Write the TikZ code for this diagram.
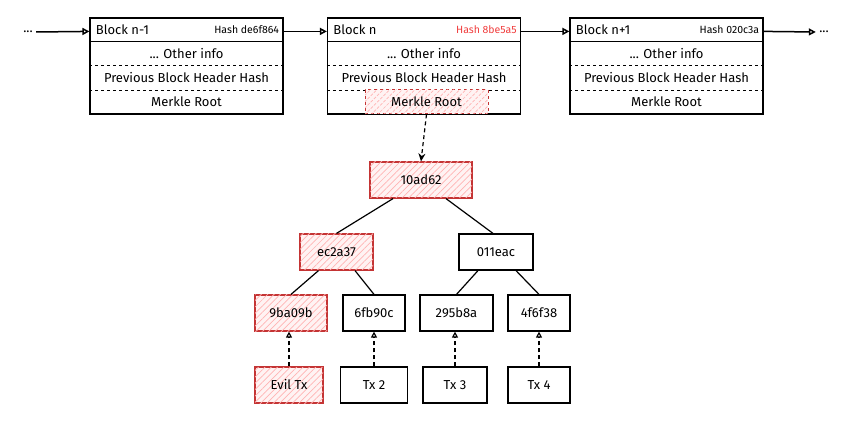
\documentclass[tikz,border=0pt]{standalone}
\usepackage{fontspec}
\setmainfont{Fira Sans}
\usetikzlibrary{arrows.meta,patterns.meta}

\definecolor{evilred}{RGB}{196,52,52}
\definecolor{hashred}{RGB}{240,62,62}
\definecolor{hatchred}{RGB}{255,180,180}
\definecolor{fillred}{RGB}{255,243,243}

\begin{document}
\begin{tikzpicture}[x=1pt, y=-1pt, font=\fontsize{13}{15}\selectfont]
	\tikzset{block/.style={draw, line width=1.2pt, minimum width=193pt, minimum height=96pt},
		hashbox/.style={draw, line width=1.2pt, minimum height=36pt},
		evil/.style={draw=evilred, fill=fillred, postaction={pattern={Lines[angle=45,distance=4.5pt,line width=0.7pt]}, pattern color=hatchred}},
		sketchdash/.style={dash pattern=on 4pt off 3pt},
		link/.style={line width=1.5pt, -{Triangle[open,length=7pt,width=7pt]}},
		proof/.style={line width=1.2pt, sketchdash, -{Triangle[open,length=6pt,width=6pt]}}}

	\useasboundingbox (0,0) rectangle (852,422);

	% the chain of blocks
	\foreach \b/\x/\t/\h/\c in {bm/186.5/Block n-1/Hash de6f864/black,
		bn/424/Block n/Hash 8be5a5/hashred,
		bp/666.5/Block n+1/Hash 020c3a/black}{
		\node [block] (\b) at (\x,66) {};
		\draw [line width=1.2pt] ([yshift=-24pt]\b.north west) -- ([yshift=-24pt]\b.north east);
		\draw [dashed, line width=1.2pt] ([yshift=-48pt]\b.north west) -- ([yshift=-48pt]\b.north east);
		\draw [dashed, line width=1.2pt] ([yshift=-73pt]\b.north west) -- ([yshift=-73pt]\b.north east);
		\node [anchor=west] (\b-title) at ([xshift=3pt,yshift=-12pt]\b.north west) {\t};
		\node [anchor=east, text=\c, font=\fontsize{10.5}{12}\selectfont] (\b-hash) at ([xshift=-1pt,yshift=-12pt]\b.north east) {\h};
		\node (\b-other) at ([yshift=-36pt]\b.north) {... Other info};
		\node (\b-prev) at ([yshift=-60.5pt]\b.north) {Previous Block Header Hash};
	}
	\node (bm-root) at ([yshift=-84.5pt]bm.north) {Merkle Root};
	\node (bp-root) at ([yshift=-84.5pt]bp.north) {Merkle Root};
	\node [evil, dashed, line width=1pt, minimum width=123pt, minimum height=24pt] (bn-root) at ([xshift=2.5pt,yshift=-84.5pt]bn.north) {Merkle Root};

	\node (ldots) at (28,32) {...};
	\node (rdots) at (824,32) {...};
	\draw [link] (ldots.east) -- ([yshift=-14pt]bm.north west);
	\draw [link] ([yshift=-14pt]bm.north east) -- ([yshift=-14pt]bn.north west);
	\draw [link] ([yshift=-14pt]bn.north east) -- ([yshift=-14pt]bp.north west);
	\draw [link] ([yshift=-14pt]bp.north east) -- (rdots.west);

	% the merkle tree
	\node [hashbox, evil, minimum width=102pt] (root) at (421,180) {10ad62};
	\node [hashbox, evil, minimum width=73pt] (hl) at (336.5,252) {ec2a37};
	\node [hashbox, minimum width=74pt] (hr) at (496,252) {011eac};

	\node [hashbox, evil, minimum width=72pt] (h1) at (291,313) {9ba09b};
	\node [hashbox, minimum width=62pt] (h2) at (374,313) {6fb90c};
	\node [hashbox, minimum width=73pt] (h3) at (456.5,313) {295b8a};
	\node [hashbox, minimum width=62pt] (h4) at (539,313) {4f6f38};

	\node [hashbox, evil, minimum width=68pt] (tx1) at (289,385) {Evil Tx};
	\node [hashbox, minimum width=67pt] (tx2) at (374,385) {Tx 2};
	\node [hashbox, minimum width=64pt] (tx3) at (455,385) {Tx 3};
	\node [hashbox, minimum width=62pt] (tx4) at (539,385) {Tx 4};

	\draw [sketchdash, line width=1.2pt, -{Stealth[length=8pt,width=7pt]}] (bn-root.south) -- (root.north);

	\draw [line width=1.2pt] ([xshift=-28pt]root.south) -- (hl.north);
	\draw [line width=1.2pt] ([xshift=25pt]root.south) -- ([xshift=-3pt]hr.north);
	\draw [line width=1.2pt] ([xshift=-18pt]hl.south) -- (h1.north);
	\draw [line width=1.2pt] ([xshift=18.5pt]hl.south) -- (h2.north);
	\draw [line width=1.2pt] ([xshift=-18pt]hr.south) -- (h3.north);
	\draw [line width=1.2pt] ([xshift=20pt]hr.south) -- (h4.north);

	\draw [proof] (tx1.north) -- (tx1.north |- h1.south);
	\draw [proof] (tx2.north) -- (tx2.north |- h2.south);
	\draw [proof] (tx3.north) -- (tx3.north |- h3.south);
	\draw [proof] (tx4.north) -- (tx4.north |- h4.south);
\end{tikzpicture}
\end{document}
